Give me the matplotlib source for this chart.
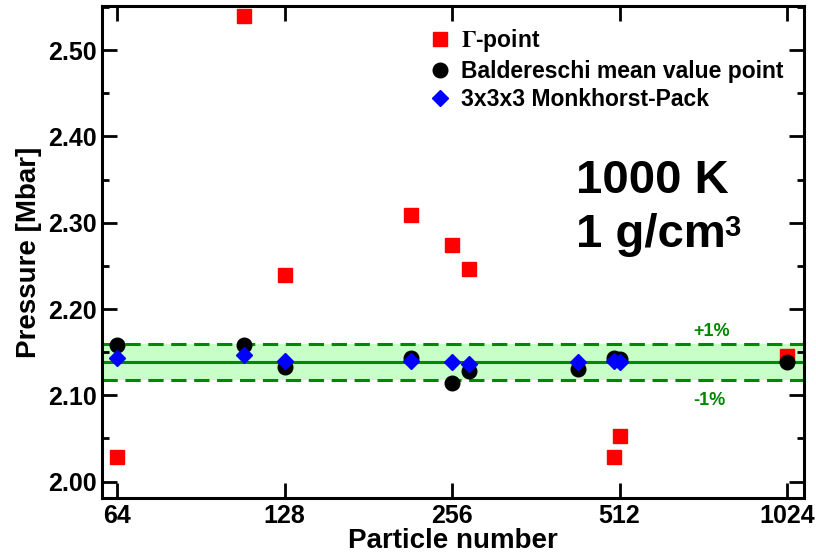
import matplotlib
matplotlib.use('Agg')
import matplotlib.pyplot as plt

plt.rcParams['font.family'] = ['Liberation Sans', 'DejaVu Sans']
plt.rcParams['font.weight'] = 'bold'
plt.rcParams['mathtext.fontset'] = 'stix'

# Gamma-point
gamma_n = [64, 108, 128, 216, 256, 275, 500, 512, 1024]
gamma_p = [2.028, 2.539, 2.240, 2.309, 2.274, 2.246, 2.029, 2.053, 2.146]

# Baldereschi mean value point
balde_n = [64, 108, 128, 216, 256, 275, 432, 500, 512, 1024]
balde_p = [2.158, 2.158, 2.133, 2.143, 2.114, 2.128, 2.131, 2.143, 2.142, 2.139]

# 3x3x3 Monkhorst-Pack
mp_n = [64, 108, 128, 216, 256, 275, 432, 500, 512]
mp_p = [2.143, 2.147, 2.140, 2.140, 2.139, 2.136, 2.139, 2.140, 2.139]

p_ref = 2.1386
tol = 0.01
xticks = [64, 128, 256, 512, 1024]

fig = plt.figure(figsize=(8.16, 5.58), dpi=100)
ax = fig.add_axes([0.125, 0.1075, 0.86, 0.8815])

green = '#008800'
ax.axhspan(p_ref * (1 - tol), p_ref * (1 + tol), color='#c8ffc8', zorder=0, lw=0)
ax.axhline(p_ref, color=green, lw=2.2, zorder=1)
ax.axhline(p_ref * (1 + tol), color=green, lw=2.2, ls=(0, (5, 2.5)), zorder=1)
ax.axhline(p_ref * (1 - tol), color=green, lw=2.2, ls=(0, (5, 2.5)), zorder=1)

ax.plot(gamma_n, gamma_p, 's', color='red', ms=10, ls='none', label=r'$\Gamma$-point', zorder=3)
ax.plot(balde_n, balde_p, 'o', color='black', ms=10.5, ls='none',
        label='Baldereschi mean value point', zorder=4)
ax.plot(mp_n, mp_p, 'D', color='blue', ms=8.5, ls='none', label='3x3x3 Monkhorst-Pack', zorder=5)

ax.set_xscale('log', base=2)
ax.set_xlim(2 ** 5.91, 2 ** 10.10)
ax.set_xticks(xticks)
ax.set_xticklabels([str(v) for v in xticks])
ax.xaxis.set_minor_locator(matplotlib.ticker.NullLocator())

ax.set_ylim(1.981, 2.551)
ax.set_yticks([2.00, 2.10, 2.20, 2.30, 2.40, 2.50])
ax.yaxis.set_major_formatter(matplotlib.ticker.FormatStrFormatter('%.2f'))
ax.yaxis.set_minor_locator(matplotlib.ticker.MultipleLocator(0.05))

ax.tick_params(which='both', direction='in', top=True, right=True, width=2, labelsize=18)
ax.tick_params(which='major', length=11, pad=4)
ax.tick_params(which='minor', length=5)
for s in ax.spines.values():
    s.set_linewidth(2.2)

ax.set_xlabel('Particle number', fontsize=20, fontweight='bold', labelpad=0)
ax.set_ylabel('Pressure [Mbar]', fontsize=20, fontweight='bold', labelpad=4)

ax.legend(loc='upper left', bbox_to_anchor=(0.443, 0.985), frameon=False, fontsize=16.5,
          handletextpad=0.3, labelspacing=0.24, borderaxespad=0.2, handlelength=1.2)

ax.text(0.676, 0.62, '1000 K', transform=ax.transAxes, fontsize=34, fontweight='bold')
t2 = ax.text(0.676, 0.51, '1 g/cm', transform=ax.transAxes, fontsize=34, fontweight='bold')

# superscript 3 placed right after "1 g/cm"
fig.canvas.draw()
bb = t2.get_window_extent().transformed(ax.transAxes.inverted())
ax.text(bb.x1 - 0.002, 0.51 + 0.068, '3', transform=ax.transAxes, fontsize=21, fontweight='bold',
        va='top')

ax.text(0.843, 0.33, '+1%', transform=ax.transAxes, fontsize=13, fontweight='bold', color=green)
ax.text(0.843, 0.19, '-1%', transform=ax.transAxes, fontsize=13, fontweight='bold', color=green)

fig.savefig('out.png', dpi=100)
